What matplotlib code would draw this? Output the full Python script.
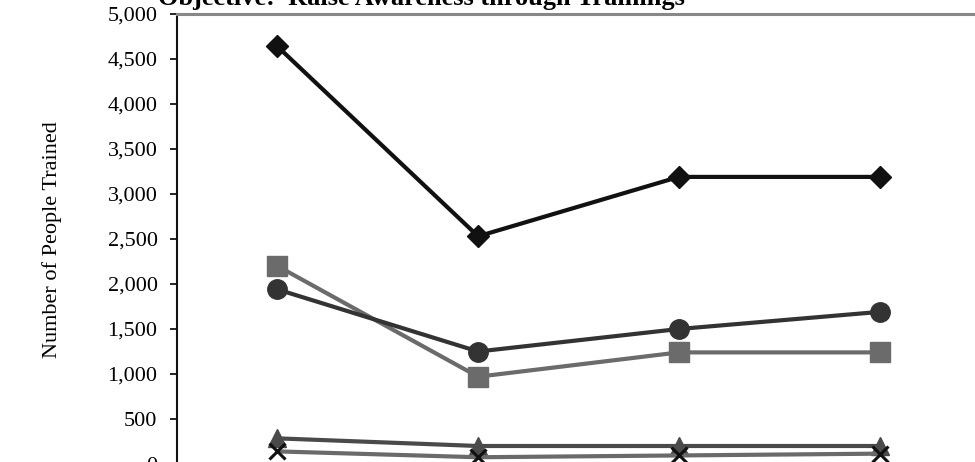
import matplotlib
matplotlib.use("Agg")
import matplotlib.pyplot as plt
from matplotlib.ticker import FuncFormatter, MultipleLocator

plt.rcParams["font.family"] = ["Liberation Serif", "DejaVu Serif"]

periods = ["P1", "P2", "P3", "P4"]
series_a = [4640, 2530, 3190, 3190]   # diamonds
series_b = [2200, 970, 1240, 1240]    # squares
series_c = [1940, 1250, 1500, 1690]   # circles
series_d = [285, 200, 200, 200]       # triangles
series_e = [140, 75, 95, 115]         # crosses

W, H = 975, 462
fig = plt.figure(figsize=(W / 100, H / 100), dpi=100)
ax = fig.add_axes([177 / W, -2 / H, 803 / W, 450 / H])

x = range(len(periods))
ax.plot(x, series_a, color="#111111", lw=3, marker="D", ms=11, zorder=5)
ax.plot(x, series_b, color="#6b6b6b", lw=3, marker="s", ms=14, zorder=3)
ax.plot(x, series_c, color="#333333", lw=3, marker="o", ms=14, zorder=4)
ax.plot(x, series_d, color="#4a4a4a", lw=3, marker="^", ms=13, zorder=3)
ax.plot(x, series_e, color="#6a6a6a", lw=3, marker="x", ms=11,
        mec="#111111", mew=2.2, zorder=4)

ax.set_xlim(-0.5, 3.5)
ax.set_ylim(0, 5000)
ax.yaxis.set_major_locator(MultipleLocator(500))
ax.yaxis.set_major_formatter(FuncFormatter(lambda v, p: f"{int(v):,}"))
ax.set_xticks([])
ax.tick_params(axis="y", direction="out", length=5, width=1.2,
               labelsize=16, pad=9)

for side in ("right", "bottom"):
    ax.spines[side].set_visible(False)
ax.spines["left"].set_linewidth(1.5)
ax.spines["left"].set_color("#111111")
ax.spines["top"].set_linewidth(2.2)
ax.spines["top"].set_color("#888888")

fig.text(52 / W, 1 - 240 / H, "Number of People Trained", rotation=90,
         ha="center", va="center", fontsize=16)
fig.text(421 / W, 1 - 5 / H, "Objective:  Raise Awareness through Trainings",
         ha="center", va="baseline", fontsize=19, fontweight="bold")

fig.savefig("out.png", dpi=100)
